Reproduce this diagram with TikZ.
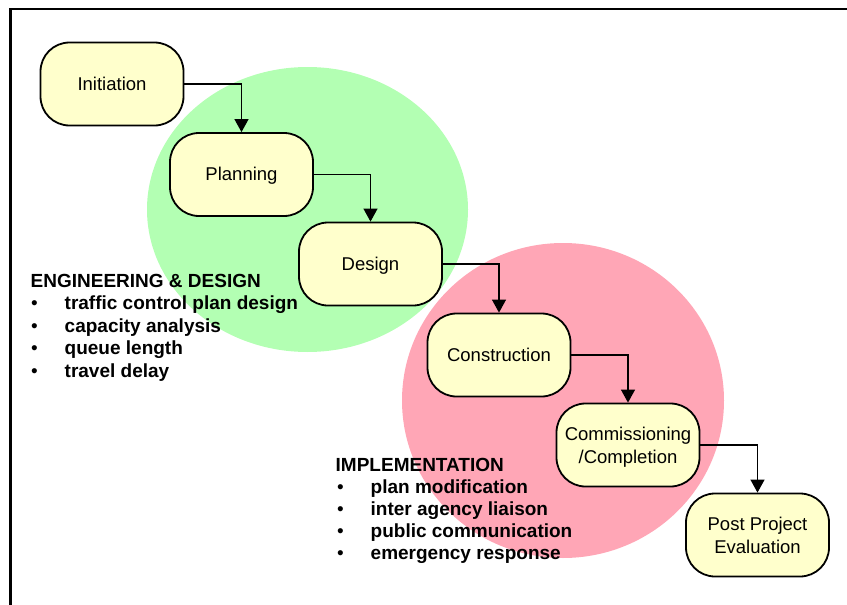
\documentclass[tikz,border=0pt]{standalone}
\usepackage{fontspec}
\setmainfont{Liberation Sans}
\usetikzlibrary{arrows.meta}
\definecolor{boxfill}{HTML}{FFFFCC}
\definecolor{greenzone}{HTML}{B3FFB3}
\definecolor{pinkzone}{HTML}{FFA6B6}
\begin{document}
\begin{tikzpicture}[x=1pt,y=-1pt,
  stage/.style={draw=black, line width=1.8pt, fill=boxfill, rounded corners=29pt,
    minimum width=143pt, minimum height=83pt, inner sep=0pt, align=center,
    font=\fontsize{18.5}{22}\selectfont},
  oneline/.style={text height=13pt, text depth=1pt},
  flow/.style={draw=black, line width=1.2pt, -{Triangle[width=14pt,length=13pt]}},
  listline/.style={anchor=base west, inner sep=0pt, font=\fontsize{19}{22.5}\selectfont\bfseries},
  frameline/.style={draw=black, line width=2.5pt}]
\useasboundingbox (0,0) rectangle (847,605);
% zones
\fill[greenzone] (307.5,209.5) ellipse [x radius=160.5pt, y radius=142.5pt];
\fill[pinkzone] (563,400.5) ellipse [x radius=161pt, y radius=157.5pt];
% frame
\coordinate (fbl) at (10.5,605);
\coordinate (ftl) at (10.5,9);
\coordinate (ftr) at (847,9);
\draw[frameline] (fbl) -- (ftl) -- (ftr);
% stages
\node[stage, oneline] (init) at (112,84) {Initiation};
\node[stage, oneline] (plan) at (241.5,174.5) {Planning};
\node[stage, oneline] (design) at (370.5,264) {Design};
\node[stage, oneline] (constr) at (499,355) {Construction};
\node[stage] (comm) at (628,445) {\raisebox{-2.5pt}[\height][\depth]{\renewcommand\arraystretch{1.02}\begin{tabular}{@{}c@{}}Commissioning\\/Completion\end{tabular}}};
\node[stage] (post) at (757.5,535) {\raisebox{-2.5pt}[\height][\depth]{\renewcommand\arraystretch{1.02}\begin{tabular}{@{}c@{}}Post Project\\Evaluation\end{tabular}}};
% connectors
\draw[flow] (init.east) -| (plan.north);
\draw[flow] (plan.east) -| (design.north);
\draw[flow] (design.east) -| (constr.north);
\draw[flow] (constr.east) -| (comm.north);
\draw[flow] (comm.east) -| (post.north);
% engineering list
\node[listline] (eng0) at (30.5,287) {ENGINEERING \& DESIGN};
\node[listline] (eng1) at (31,309.5) {\makebox[33.5pt][l]{\mdseries •}traffic control plan design};
\node[listline] (eng2) at (31,332) {\makebox[33.5pt][l]{\mdseries •}capacity analysis};
\node[listline] (eng3) at (31,354.5) {\makebox[33.5pt][l]{\mdseries •}queue length};
\node[listline] (eng4) at (31,377) {\makebox[33.5pt][l]{\mdseries •}travel delay};
% implementation list
\node[listline] (imp0) at (335.5,471) {IMPLEMENTATION};
\node[listline] (imp1) at (337,493.5) {\makebox[33.5pt][l]{\mdseries •}plan modification};
\node[listline] (imp2) at (337,515.5) {\makebox[33.5pt][l]{\mdseries •}inter agency liaison};
\node[listline] (imp3) at (337,537.5) {\makebox[33.5pt][l]{\mdseries •}public communication};
\node[listline] (imp4) at (337,559.5) {\makebox[33.5pt][l]{\mdseries •}emergency response};
\end{tikzpicture}
\end{document}
